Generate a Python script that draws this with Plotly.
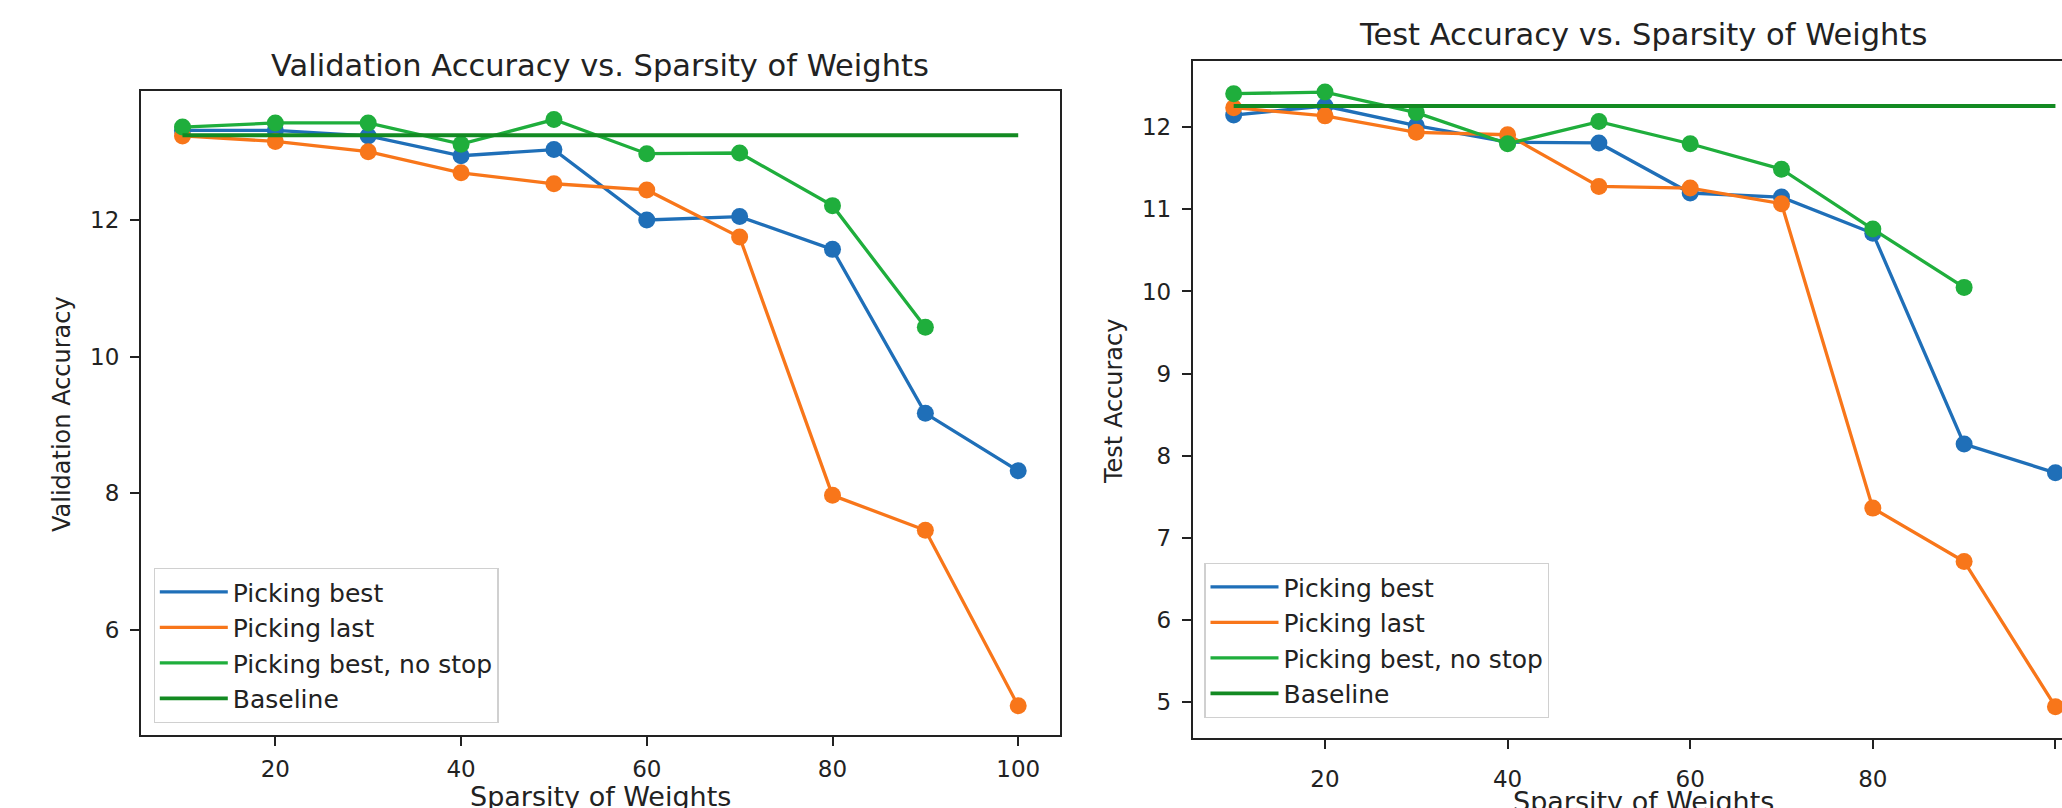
import plotly.graph_objects as go

# ---------------- data ----------------
sparsity = [10, 20, 30, 40, 50, 60, 70, 80, 90, 100]
sparsity_nostop = [10, 20, 30, 40, 50, 60, 70, 80, 90]
baseline_x = [10, 100]

val_best = [13.31, 13.31, 13.23, 12.94, 13.03, 12.00, 12.05, 11.57, 9.17, 8.33]
val_last = [13.23, 13.15, 13.00, 12.69, 12.53, 12.44, 11.75, 7.97, 7.46, 4.89]
val_nostop = [13.36, 13.42, 13.42, 13.11, 13.47, 12.97, 12.98, 12.21, 10.43]
val_baseline = [13.24, 13.24]

test_best = [12.15, 12.26, 12.02, 11.82, 11.81, 11.20, 11.15, 10.71, 8.14, 7.79]
test_last = [12.24, 12.14, 11.94, 11.91, 11.28, 11.26, 11.07, 7.36, 6.71, 4.94]
test_nostop = [12.41, 12.43, 12.18, 11.80, 12.07, 11.80, 11.49, 10.76, 10.05]
test_baseline = [12.26, 12.26]

names = ["Picking best", "Picking last", "Picking best, no stop", "Baseline"]
x_ticks = [20, 40, 60, 80, 100]
val_y_ticks = [6, 8, 10, 12]
test_y_ticks = [5, 6, 7, 8, 9, 10, 11, 12]

# ---------------- style ----------------
W, H = 2062, 808
FONT = "DejaVu Sans"
TXT = "#222222"
C_BEST = "#1f6fb8"
C_LAST = "#f8761a"
C_NOSTOP = "#1fae3c"
C_BASE = "#138a22"
LW = 3.3
MS = 17


def px_x(p):
    return p / W


def px_y(p):
    return 1 - p / H


fig = go.Figure()


def add_panel(xa, ya, legend, best, last, nostop, base):
    for yv, xv, color, name in [
        (best, sparsity, C_BEST, names[0]),
        (last, sparsity, C_LAST, names[1]),
        (nostop, sparsity_nostop, C_NOSTOP, names[2]),
    ]:
        fig.add_trace(go.Scatter(x=xv, y=yv, mode="lines", name=name,
                                 line=dict(color=color, width=LW),
                                 xaxis=xa, yaxis=ya, legend=legend))
        fig.add_trace(go.Scatter(x=xv, y=yv, mode="markers", showlegend=False,
                                 marker=dict(color=color, size=MS),
                                 xaxis=xa, yaxis=ya, legend=legend))
    fig.add_trace(go.Scatter(x=baseline_x, y=base, mode="lines", name=names[3],
                             line=dict(color=C_BASE, width=3.8),
                             xaxis=xa, yaxis=ya, legend=legend))


add_panel("x", "y", "legend", val_best, val_last, val_nostop, val_baseline)
add_panel("x2", "y2", "legend2", test_best, test_last, test_nostop, test_baseline)

axis_common = dict(
    showgrid=False, zeroline=False, showline=True, linecolor=TXT, linewidth=1.5,
    ticks="outside", ticklen=9, tickwidth=1.5, tickcolor=TXT,
    tickfont=dict(family=FONT, size=23, color=TXT),
)

legend_common = dict(
    xanchor="left", yanchor="top",
    font=dict(family=FONT, size=25, color=TXT),
    bgcolor="rgba(255,255,255,0.8)", bordercolor="#d0d0d0", borderwidth=1.2,
    itemwidth=68, tracegroupgap=0,
)

fig.update_layout(
    width=W, height=H, autosize=False,
    margin=dict(l=0, r=0, t=0, b=0, pad=0),
    paper_bgcolor="white", plot_bgcolor="white",
    font=dict(family=FONT, color=TXT),
    xaxis=dict(domain=[px_x(140.7), px_x(1060)], range=[5.5, 104.5],
               tickvals=x_ticks, mirror=True, anchor="y",
               ticklabelstandoff=4, **axis_common),
    yaxis=dict(domain=[px_y(735), px_y(90.7)], range=[4.463, 13.892],
               tickvals=val_y_ticks, mirror=True, anchor="x",
               ticklabelstandoff=6, **axis_common),
    xaxis2=dict(domain=[px_x(1192.6), 1.0], range=[5.5, 100.72],
                tickvals=x_ticks, mirror=True, anchor="y2",
                ticklabelstandoff=10, **axis_common),
    yaxis2=dict(domain=[px_y(738.3), px_y(61.3)], range=[4.555, 12.805],
                tickvals=test_y_ticks, mirror=False, anchor="x2",
                ticklabelstandoff=6, **axis_common),
    legend=dict(x=px_x(153.6), y=px_y(568), **legend_common),
    legend2=dict(x=px_x(1204.3), y=px_y(563), **legend_common),
    showlegend=True,
)

annots = [
    ("Validation Accuracy vs. Sparsity of Weights", 599.5, 66, 30.5, 0),
    ("Test Accuracy vs. Sparsity of Weights", 1643, 34.5, 30.5, 0),
    ("Sparsity of Weights", 600, 796.5, 27, 0),
    ("Sparsity of Weights", 1643, 801.5, 27, 0),
    ("Validation Accuracy", 62, 414, 24, -90),
    ("Test Accuracy", 1114, 402, 24, -90),
]
for text, x, y, size, ang in annots:
    fig.add_annotation(text=text, x=px_x(x), y=px_y(y), xref="paper", yref="paper",
                       xanchor="center", yanchor="middle", showarrow=False,
                       textangle=ang, font=dict(family=FONT, size=size, color=TXT))

fig.write_html("out.html")
